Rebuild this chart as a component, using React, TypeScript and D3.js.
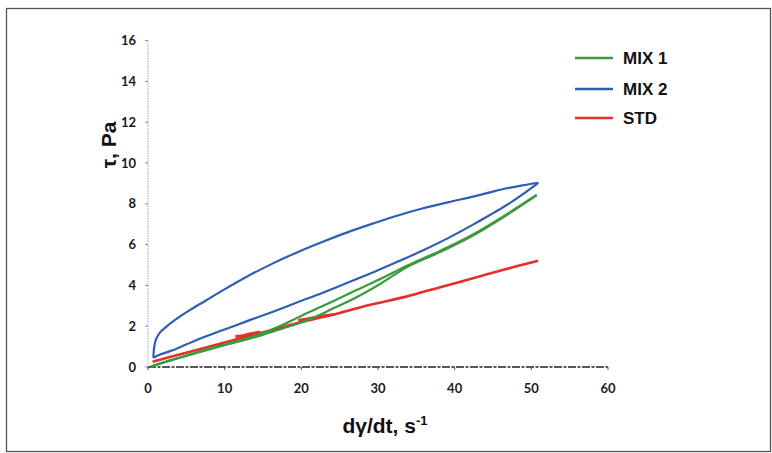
import React from "react";
import * as d3 from "d3";

const xTicks = [0, 10, 20, 30, 40, 50, 60];
const yTicks = [0, 2, 4, 6, 8, 10, 12, 14, 16];

// MIX 2 (blue) – up curve (lower) and down curve (upper), hysteresis loop
const mix2UpX = [0.7, 1.5, 3.3, 6.5, 9.8, 13, 16.3, 19.5, 22.8, 26, 29.4, 32.6, 35.9, 39.2, 42.4, 44.6, 46.8, 49, 50.9];
const mix2UpY = [0.45, 0.6, 0.83, 1.35, 1.81, 2.26, 2.71, 3.17, 3.64, 4.13, 4.65, 5.17, 5.72, 6.33, 6.98, 7.45, 7.94, 8.5, 9.03];
const mix2DownX = [50.9, 48.8, 46.8, 44.6, 42.4, 39.2, 35.9, 32.6, 29.4, 26, 22.8, 19.5, 16.3, 13, 9.8, 7.5, 5.5, 3.8, 2.4, 1.5, 1.0, 0.8, 0.7];
const mix2DownY = [9.03, 8.9, 8.76, 8.56, 8.35, 8.08, 7.78, 7.43, 7.04, 6.6, 6.14, 5.63, 5.08, 4.45, 3.77, 3.25, 2.8, 2.38, 1.98, 1.66, 1.3, 0.95, 0.45];

// MIX 1 (green) – up and down curves almost overlapping
const mix1UpX = [0.4, 3.5, 7.65, 11, 14.2, 17.5, 20.7, 24, 27.2, 30.5, 33.7, 38, 42.4, 46.5, 50.7];
const mix1UpY = [0.02, 0.38, 0.83, 1.17, 1.49, 1.88, 2.28, 2.84, 3.42, 4.12, 4.88, 5.62, 6.45, 7.38, 8.43];
const mix1DownX = [50.7, 46.5, 42.4, 38, 33.7, 30.5, 27.2, 24, 20.7, 17.5, 14.2, 11, 7.65, 3.5, 0.4];
const mix1DownY = [8.43, 7.42, 6.5, 5.68, 4.95, 4.35, 3.77, 3.2, 2.63, 2.06, 1.55, 1.2, 0.86, 0.4, 0.04];

// STD (red)
const stdX = [0.6, 5, 11.2, 15, 19.4, 25, 29, 33.7, 38, 42.4, 46.5, 50.9];
const stdY = [0.26, 0.7, 1.32, 1.7, 2.14, 2.65, 3.05, 3.45, 3.9, 4.35, 4.78, 5.21];
// noisy thick segments of STD
const stdNoise1X = [11.4, 12.2, 13, 13.8, 14.6];
const stdNoise1Y = [1.5, 1.52, 1.6, 1.66, 1.72];
const stdNoise2X = [19.6, 20.8, 22, 23.2, 24.4];
const stdNoise2Y = [2.28, 2.36, 2.44, 2.52, 2.58];

const legendNames = ["MIX 1", "MIX 2", "STD"];
const colors = ["#3a9a3e", "#2f5db4", "#e2302a"];

const W = 772;
const H = 453;
const x = d3.scaleLinear().domain([0, 60]).range([148, 608]);
const y = d3.scaleLinear().domain([0, 16]).range([367, 40.6]);

const zip = (xs: number[], ys: number[]) => xs.map((v, i) => [v, ys[i]] as [number, number]);
const line = d3
  .line<[number, number]>()
  .x((d) => x(d[0]))
  .y((d) => y(d[1]))
  .curve(d3.curveCatmullRom.alpha(0.5));

export default function App() {
  const tickFont = "Lato, 'Open Sans', sans-serif";
  const titleFont = "'Liberation Sans', Arial, sans-serif";
  const legendY = [58, 89, 118];
  return (
    <svg
      width={W}
      height={H}
      style={{ position: "absolute", left: 0, top: 0, background: "#fff" }}
    >
      <rect x={0} y={0} width={W} height={H} fill="#fff" />
      <rect x={6.5} y={8.5} width={764} height={443} fill="none" stroke="#555" strokeWidth={1.3} />

      {/* y axis */}
      <line x1={x(0)} x2={x(0)} y1={y(0)} y2={y(16)} stroke="#8fa6d6" strokeWidth={1} strokeDasharray="1.5,1" />
      {yTicks.map((t) => (
        <g key={"y" + t}>
          <line x1={x(0) - 3} x2={x(0)} y1={y(t)} y2={y(t)} stroke="#888" strokeWidth={1} />
          <text
            x={136}
            y={y(t) + 4.5}
            textAnchor="end"
            fontFamily={tickFont}
            fontWeight={700}
            fontSize={13}
            fill="#1a1a1a"
          >
            {t}
          </text>
        </g>
      ))}

      {/* x axis */}
      <line x1={x(0)} x2={x(60)} y1={y(0)} y2={y(0)} stroke="#222" strokeWidth={1.3} strokeDasharray="8,1.5,3,1.5" />
      {xTicks.map((t) => (
        <g key={"x" + t}>
          <line x1={x(t)} x2={x(t)} y1={y(0)} y2={y(0) + 3} stroke="#555" strokeWidth={1} />
          <text
            x={x(t)}
            y={393}
            textAnchor="middle"
            fontFamily={tickFont}
            fontWeight={700}
            fontSize={13}
            fill="#1a1a1a"
          >
            {t}
          </text>
        </g>
      ))}

      {/* series */}
      <path d={line(zip(stdX, stdY)) || ""} fill="none" stroke={colors[2]} strokeWidth={2.6} />
      <path d={line(zip(stdNoise1X, stdNoise1Y)) || ""} fill="none" stroke={colors[2]} strokeWidth={3} />
      <path d={line(zip(stdNoise2X, stdNoise2Y)) || ""} fill="none" stroke={colors[2]} strokeWidth={3} />
      <path d={line(zip(mix1UpX, mix1UpY)) || ""} fill="none" stroke={colors[0]} strokeWidth={2.2} />
      <path d={line(zip(mix1DownX, mix1DownY)) || ""} fill="none" stroke={colors[0]} strokeWidth={2.2} />
      <path d={line(zip(mix2UpX, mix2UpY)) || ""} fill="none" stroke={colors[1]} strokeWidth={2.2} />
      <path d={line(zip(mix2DownX, mix2DownY)) || ""} fill="none" stroke={colors[1]} strokeWidth={2.2} />

      {/* axis titles */}
      <text
        transform={`translate(116,145) rotate(-90)`}
        textAnchor="middle"
        fontFamily={titleFont}
        fontWeight={700}
        fontSize={21}
        fill="#111"
      >
        τ, Pa
      </text>
      <text x={385} y={433} textAnchor="middle" fontFamily={titleFont} fontWeight={700} fontSize={21} fill="#111">
        dγ/dt, s
        <tspan dy={-8} fontSize={13}>
          -1
        </tspan>
      </text>

      {/* legend */}
      {legendNames.map((n, i) => (
        <g key={n}>
          <line x1={575} x2={613} y1={legendY[i]} y2={legendY[i]} stroke={colors[i]} strokeWidth={2.6} />
          <text
            x={623}
            y={legendY[i] + 6}
            fontFamily={titleFont}
            fontWeight={700}
            fontSize={17}
            fill="#111"
          >
            {n}
          </text>
        </g>
      ))}
    </svg>
  );
}
